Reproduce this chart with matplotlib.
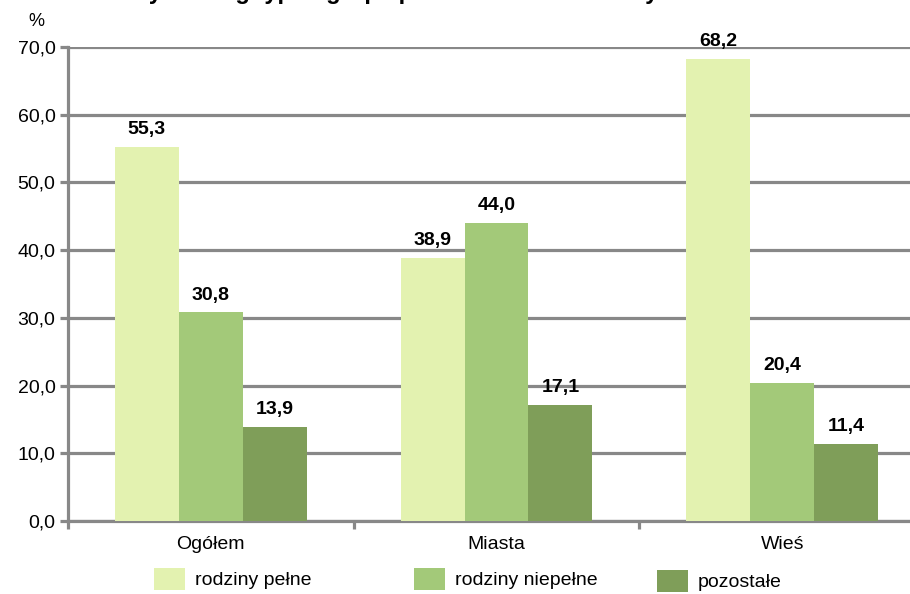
import matplotlib
matplotlib.use("Agg")
import matplotlib.pyplot as plt
import numpy as np

categories = ["Ogółem", "Miasta", "Wieś"]
series_names = ["rodziny pełne", "rodziny niepełne", "pozostałe"]
rodziny_pelne = [55.3, 38.9, 68.2]
rodziny_niepelne = [30.8, 44.0, 20.4]
pozostale = [13.9, 17.1, 11.4]
yticks = [0, 10, 20, 30, 40, 50, 60, 70]

colors = ["#E3F2B0", "#A3C979", "#7F9E59"]
grid_gray = "#888888"

plt.rcParams['font.family'] = ['Liberation Sans', 'DejaVu Sans']

fig = plt.figure(figsize=(9.10, 5.94), dpi=100)
ax = fig.add_axes([68/910, 1-521/594, 857/910, 474/594])

x = np.arange(len(categories))
w = 0.224
series = [rodziny_pelne, rodziny_niepelne, pozostale]
bars = []
for i, (vals, c, name) in enumerate(zip(series, colors, series_names)):
    b = ax.bar(x + (i-1)*w, vals, width=w, color=c, label=name, zorder=3)
    bars.append(b)
    for xi, v in zip(x + (i-1)*w, vals):
        ax.text(xi, v + 1.3, f"{v:.1f}".replace(".", ","), ha="center", va="bottom",
                fontsize=14, fontweight="bold", zorder=4)

ax.set_xlim(-0.5, 2.5)
ax.set_ylim(0, 70)
ax.set_yticks(yticks)
ax.set_yticklabels([f"{t:.1f}".replace(".", ",") for t in yticks], fontsize=14)
ax.yaxis.grid(True, color=grid_gray, linewidth=2.3, zorder=0)
ax.set_axisbelow(True)

ax.set_xticks(x)
ax.set_xticklabels(categories, fontsize=14)
ax.tick_params(axis='x', which='major', length=0, pad=11)
ax.set_xticks([-0.5, 0.5, 1.5, 2.5], minor=True)
ax.tick_params(axis='x', which='minor', length=6, width=2.3, color=grid_gray)
ax.tick_params(axis='y', length=6, width=2.3, color=grid_gray, pad=3)

for s in ["top", "right"]:
    ax.spines[s].set_visible(False)
for s in ["left", "bottom"]:
    ax.spines[s].set_color(grid_gray)
    ax.spines[s].set_linewidth(2.3)

fig.text(36/910, 1-22/594, "%", fontsize=13, ha="center", va="center")

fig.text(70/910, 1+0.5/594, "Rodziny według typu i grup społeczno-ekonomicznych w miastach i na wsi",
         fontsize=17, fontweight="bold", ha="left", va="baseline")

legend_x = [154, 414, 657]
legend_y = [579, 579, 581]
for b, name, lx, ly in zip(bars, series_names, legend_x, legend_y):
    leg = fig.legend(handles=[b], labels=[name], loc="center left",
                     bbox_to_anchor=(lx/910, 1-ly/594), frameon=False,
                     fontsize=14, handlelength=1.6, handleheight=1.4, handletextpad=0.5,
                     borderaxespad=0, borderpad=0)

fig.savefig("out.png", dpi=100)
